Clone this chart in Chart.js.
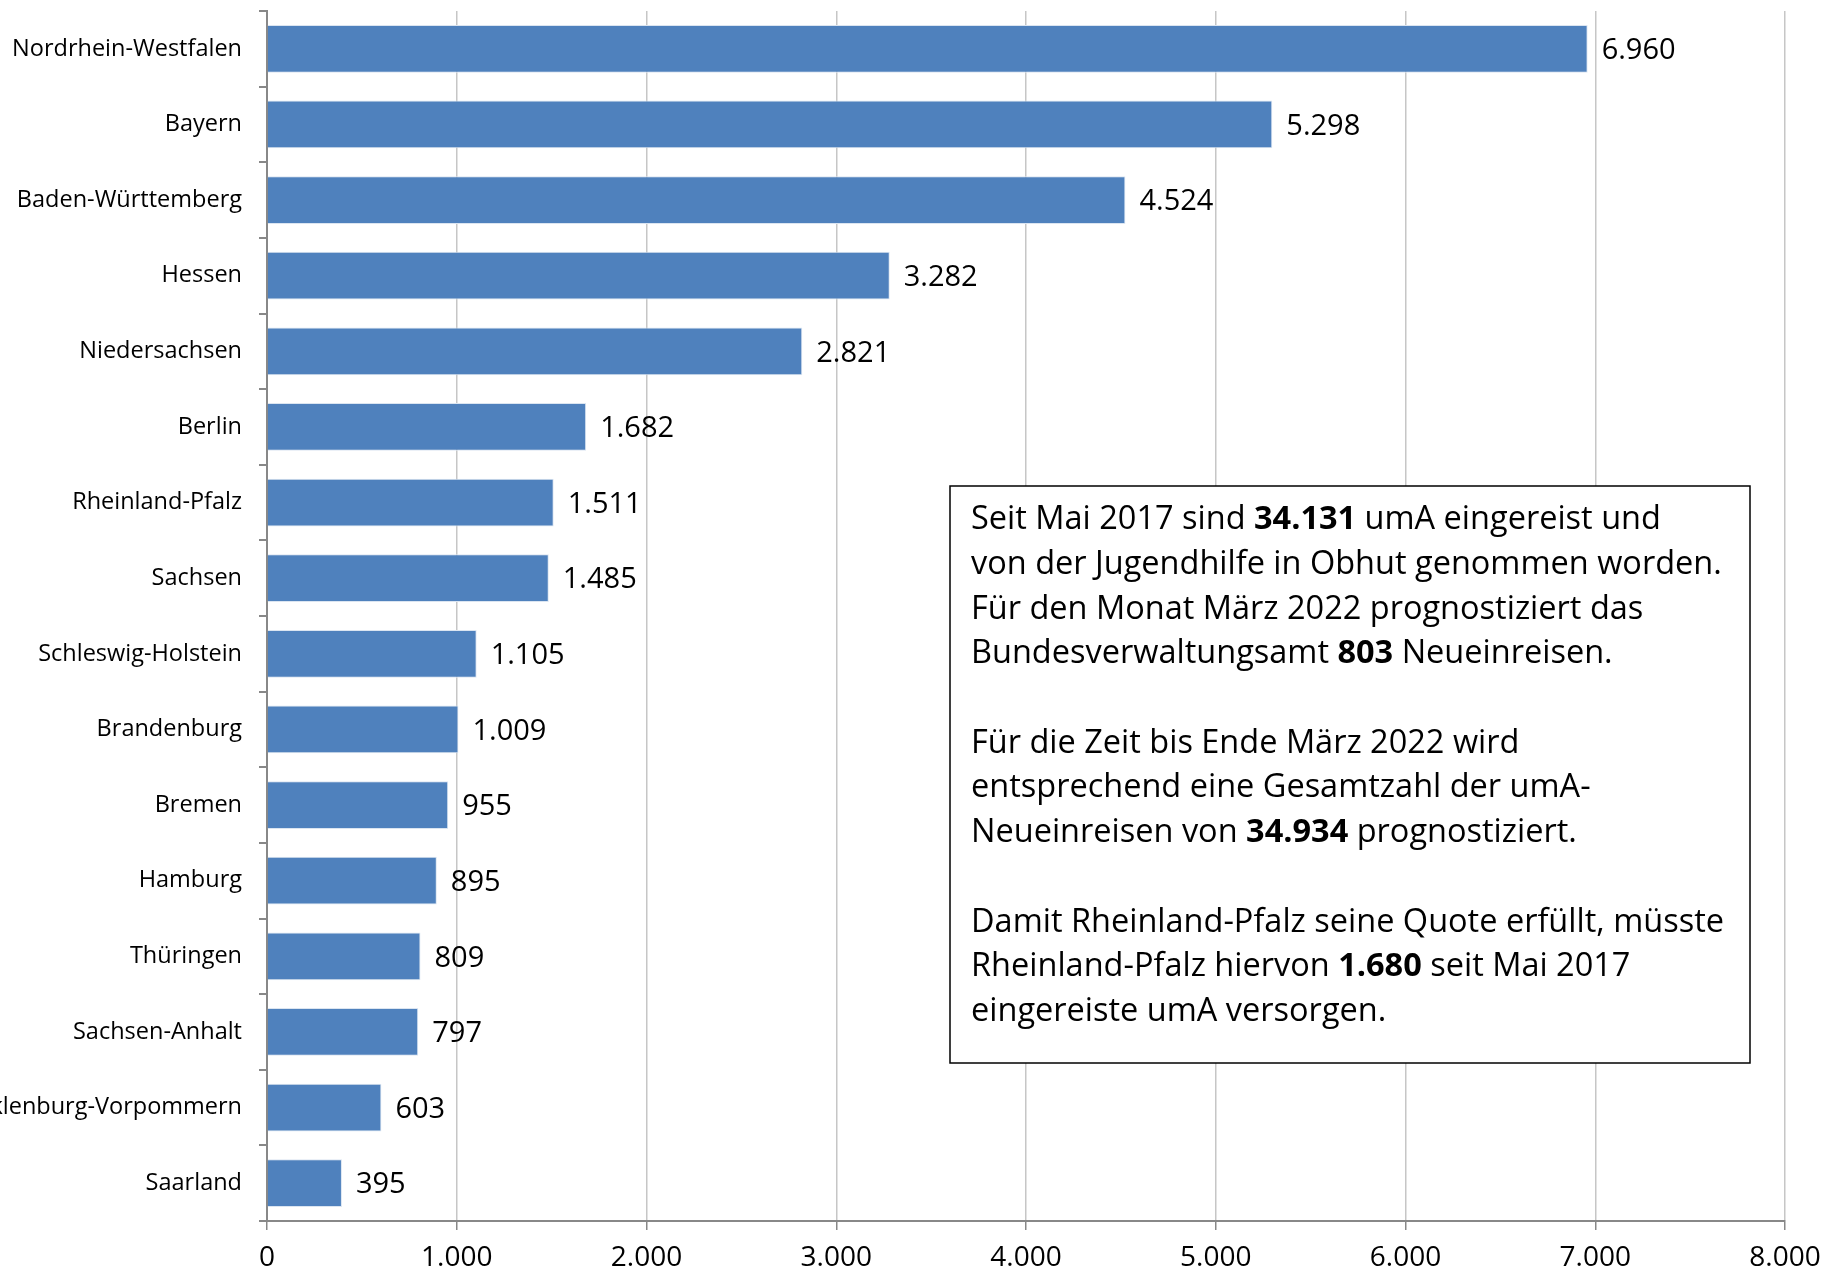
<!DOCTYPE html>
<html>
<head>
<meta charset="utf-8">
<script src="https://cdn.jsdelivr.net/npm/chart.js@4.4.1/dist/chart.umd.min.js"></script>
<style>
  html, body { margin: 0; padding: 0; background: #fff; }
  #wrap { width: 1823px; height: 1270px; }
</style>
</head>
<body>
<div id="wrap"><canvas id="myChart" width="1823" height="1270"></canvas></div>
<script>
var states = ['Nordrhein-Westfalen', 'Bayern', 'Baden-Württemberg', 'Hessen', 'Niedersachsen', 'Berlin',
    'Rheinland-Pfalz', 'Sachsen', 'Schleswig-Holstein', 'Brandenburg', 'Bremen', 'Hamburg',
    'Thüringen', 'Sachsen-Anhalt', 'Mecklenburg-Vorpommern', 'Saarland'];
var counts = [6960, 5298, 4524, 3282, 2821, 1682, 1511, 1485, 1105, 1009, 955, 895, 809, 797, 603, 395];
var xTicks = [0, 1000, 2000, 3000, 4000, 5000, 6000, 7000, 8000];

// text box content, [text, bold]
var noteLines = [
    [['Seit Mai 2017 sind ', false], ['34.131', true], [' umA eingereist und', false]],
    [['von der Jugendhilfe in Obhut genommen worden.', false]],
    [['Für den Monat März 2022 prognostiziert das', false]],
    [['Bundesverwaltungsamt ', false], ['803', true], [' Neueinreisen.', false]],
    [],
    [['Für die Zeit bis Ende März 2022 wird', false]],
    [['entsprechend eine Gesamtzahl der umA-', false]],
    [['Neueinreisen von ', false], ['34.934', true], [' prognostiziert.', false]],
    [],
    [['Damit Rheinland-Pfalz seine Quote erfüllt, müsste', false]],
    [['Rheinland-Pfalz hiervon ', false], ['1.680', true], [' seit Mai 2017', false]],
    [['eingereiste umA versorgen.', false]]
];

var FONT = "'Open Sans', 'DejaVu Sans', sans-serif";

function fmt(v) {
    return String(Math.round(v)).replace(/\B(?=(\d{3})+(?!\d))/g, '.');
}

var valueLabels = {
    id: 'valueLabels',
    afterDatasetsDraw: function (chart) {
        var ctx = chart.ctx;
        var meta = chart.getDatasetMeta(0);
        ctx.save();
        ctx.font = '29px ' + FONT;
        ctx.fillStyle = '#000';
        ctx.textAlign = 'left';
        ctx.textBaseline = 'middle';
        meta.data.forEach(function (bar, i) {
            ctx.fillText(fmt(counts[i]), bar.x + 14, bar.y + 2);
        });
        ctx.restore();
    }
};

var noteBox = {
    id: 'noteBox',
    afterDraw: function (chart) {
        var ctx = chart.ctx;
        var left = 950, top = 486, w = 800, h = 577;
        ctx.save();
        ctx.fillStyle = '#fff';
        ctx.fillRect(left, top, w, h);
        ctx.strokeStyle = '#000';
        ctx.lineWidth = 1.5;
        ctx.strokeRect(left, top, w, h);
        ctx.fillStyle = '#000';
        ctx.textBaseline = 'middle';
        var y = top + 34;
        for (var line of noteLines) {
            var x = left + 21;
            for (var seg of line) {
                ctx.font = (seg[1] ? 'bold ' : '') + '32.5px ' + FONT;
                ctx.fillText(seg[0], x, y);
                x += ctx.measureText(seg[0]).width;
            }
            y += 44.7;
        }
        ctx.restore();
    }
};

var ctx1 = document.getElementById('myChart').getContext('2d');
var myChart = new Chart(ctx1, {
    type: 'bar',
    data: {
        labels: states,
        datasets: [{
            data: counts,
            backgroundColor: '#4F81BD',
            borderColor: '#dbe5f1',
            borderWidth: 1,
            barPercentage: 0.63,
            categoryPercentage: 1
        }]
    },
    options: {
        indexAxis: 'y',
        responsive: false,
        animation: false,
        devicePixelRatio: 1,
        layout: {
            padding: { top: 11, right: 38, left: 0, bottom: 0 }
        },
        plugins: {
            legend: { display: false },
            tooltip: { enabled: false }
        },
        scales: {
            x: {
                min: 0,
                max: 8000,
                afterBuildTicks: function (scale) {
                    scale.ticks = xTicks.map(function (v) { return { value: v }; });
                },
                afterFit: function (scale) {
                    scale.height = 49;
                    scale.paddingLeft = 0;
                    scale.paddingRight = 0;
                },
                ticks: {
                    color: '#000',
                    font: { family: FONT, size: 28 },
                    padding: 11,
                    maxRotation: 0,
                    callback: function (v) { return fmt(v); }
                },
                grid: {
                    color: '#c6c6c6',
                    lineWidth: 1.5,
                    tickLength: 9,
                    tickColor: '#888'
                },
                border: { color: '#888', width: 2 }
            },
            y: {
                afterFit: function (scale) {
                    scale.width = 267;
                    scale.paddingTop = 0;
                    scale.paddingBottom = 0;
                },
                ticks: {
                    color: '#000',
                    font: { family: FONT, size: 23.5 },
                    padding: 17,
                    autoSkip: false
                },
                grid: {
                    drawOnChartArea: false,
                    tickLength: 8,
                    tickColor: '#888',
                    lineWidth: 2
                },
                border: { color: '#888', width: 2 }
            }
        }
    },
    plugins: [valueLabels, noteBox]
});
</script>
</body>
</html>
